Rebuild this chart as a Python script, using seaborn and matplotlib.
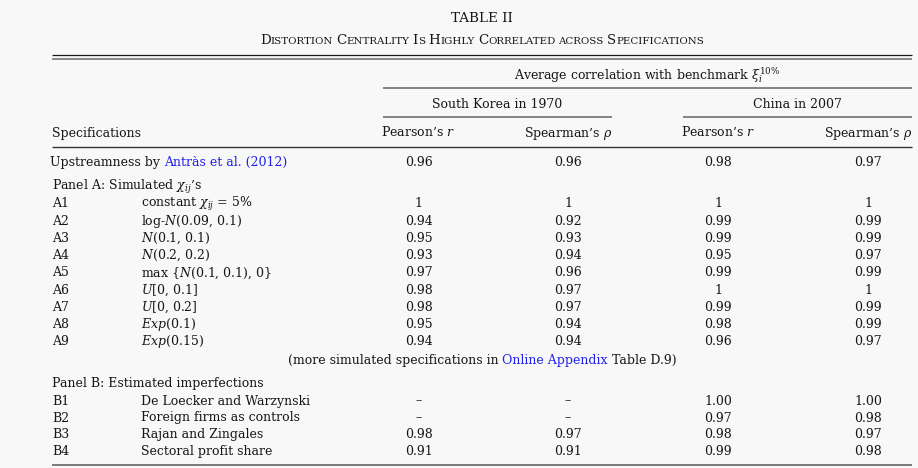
import matplotlib
matplotlib.use("Agg")
import matplotlib.pyplot as plt
import seaborn as sns

# table content
header_cols = ["Pearson’s $r$", "Spearman’s $\\rho$", "Pearson’s $r$", "Spearman’s $\\rho$"]
countries = ["South Korea in 1970", "China in 2007"]
upstream_vals = ["0.96", "0.96", "0.98", "0.97"]

a_ids = ["A1", "A2", "A3", "A4", "A5", "A6", "A7", "A8", "A9"]
a_desc = [r"constant $\chi_{ij}$ = 5%", r"log-$N$(0.09, 0.1)", r"$N$(0.1, 0.1)",
          r"$N$(0.2, 0.2)", r"max {$N$(0.1, 0.1), 0}", r"$U$[0, 0.1]",
          r"$U$[0, 0.2]", r"$Exp$(0.1)", r"$Exp$(0.15)"]
a_kor_pearson = ["1", "0.94", "0.95", "0.93", "0.97", "0.98", "0.98", "0.95", "0.94"]
a_kor_spearman = ["1", "0.92", "0.93", "0.94", "0.96", "0.97", "0.97", "0.94", "0.94"]
a_chn_pearson = ["1", "0.99", "0.99", "0.95", "0.99", "1", "0.99", "0.98", "0.96"]
a_chn_spearman = ["1", "0.99", "0.99", "0.97", "0.99", "1", "0.99", "0.99", "0.97"]

b_ids = ["B1", "B2", "B3", "B4"]
b_desc = ["De Loecker and Warzynski", "Foreign firms as controls",
          "Rajan and Zingales", "Sectoral profit share"]
b_kor_pearson = ["–", "–", "0.98", "0.91"]
b_kor_spearman = ["–", "–", "0.97", "0.91"]
b_chn_pearson = ["1.00", "0.97", "0.98", "0.99"]
b_chn_spearman = ["1.00", "0.98", "0.97", "0.98"]

sns.set_theme(style="white")
plt.rcParams["font.family"] = ["DejaVu Serif"]
plt.rcParams["mathtext.fontset"] = "dejavuserif"

INK = "#161616"
BLUE = "#2020ee"
FS = 9.0

fig = plt.figure(figsize=(9.18, 4.68), dpi=100, facecolor="#f8f8f8")
ax = fig.add_axes([0, 0, 1, 1])
ax.set_xlim(0, 918)
ax.set_ylim(468, 0)
ax.axis("off")
renderer = fig.canvas.get_renderer()


def text_w(s, size):
    t = ax.text(0, 0, s, fontsize=size)
    w = t.get_window_extent(renderer).width
    t.remove()
    return w


def segments(parts, x, y, align="left"):
    # parts: list of (text, size, color, space_after)
    widths = [text_w(p[0], p[1]) for p in parts]
    spaces = [text_w("a a", p[1]) - text_w("aa", p[1]) if p[3] else 0 for p in parts]
    total = sum(widths) + sum(spaces)
    if align == "center":
        x = x - total / 2
    for (s, size, col, _), w, sp in zip(parts, widths, spaces):
        ax.text(x, y, s, fontsize=size, color=col, va="baseline", ha="left")
        x += w + sp


def hline(x0, x1, y, color="#444444", lw=0.9):
    ax.plot([x0, x1], [y, y], color=color, lw=lw, solid_capstyle="butt")


# title
ax.text(482, 22.5, "TABLE II", fontsize=9.7, color=INK, ha="center", va="baseline")
big, small = 9.6, 7.4
sc = []
for word in "Distortion Centrality Is Highly Correlated across Specifications".split():
    if word[0].isupper():
        sc.append((word[0], big, INK, False))
        sc.append((word[1:].upper(), small, INK, True))
    else:
        sc.append((word.upper(), small, INK, True))
sc[-1] = (sc[-1][0], small, INK, False)
segments(sc, 482, 44, align="center")

# rules
L, R = 52, 912
cols = [418.5, 568, 718, 868]
hline(L, R, 54.5, color="#1a1a1a", lw=0.9)
hline(L, R, 59.2, color="#808080", lw=1.3)
hline(383, R, 88, color="#707070", lw=1.2)
hline(383, 612, 117, color="#707070", lw=1.2)
hline(683, R, 117, color="#707070", lw=1.2)
hline(L, R, 146.5, color="#333333", lw=1.0)
hline(L, R, 464.5, color="#707070", lw=1.3)

# header
ax.text(647.5, 79.5, r"Average correlation with benchmark $\xi_i^{10\%}$",
        fontsize=FS, color=INK, ha="center", va="baseline")
ax.text(497.5, 107.5, countries[0], fontsize=FS, color=INK, ha="center", va="baseline")
ax.text(797.5, 107.5, countries[1], fontsize=FS, color=INK, ha="center", va="baseline")
ax.text(L, 136.5, "Specifications", fontsize=FS, color=INK, ha="left", va="baseline")
for cx, lab in zip(cols, header_cols):
    ax.text(cx, 136.5, lab, fontsize=FS, color=INK, ha="center", va="baseline")

DX = 141
OFF = 4.6

# upstreamness row
y = 161.7 + OFF
segments([("Upstreamness by", FS, INK, True), ("Antràs et al. (2012)", FS, BLUE, False)], 50, y)
for cx, v in zip(cols, upstream_vals):
    ax.text(cx, y, v, fontsize=FS, color=INK, ha="center", va="baseline")

# panel A
ax.text(L, 185 + OFF, r"Panel A: Simulated $\chi_{ij}$’s", fontsize=FS, color=INK, va="baseline")
a_cols = [a_kor_pearson, a_kor_spearman, a_chn_pearson, a_chn_spearman]
for i, (rid, desc) in enumerate(zip(a_ids, a_desc)):
    y = 202.7 + i * 17.25 + OFF
    ax.text(L, y, rid, fontsize=FS, color=INK, va="baseline")
    ax.text(DX, y, desc, fontsize=FS, color=INK, va="baseline")
    for cx, col in zip(cols, a_cols):
        ax.text(cx, y, col[i], fontsize=FS, color=INK, ha="center", va="baseline")

segments([("(more simulated specifications in", FS, INK, True),
          ("Online Appendix", FS, BLUE, True),
          ("Table D.9)", FS, INK, False)], 482, 359 + OFF, align="center")

# panel B
ax.text(L, 382.7 + OFF, "Panel B: Estimated imperfections", fontsize=FS, color=INK, va="baseline")
b_cols = [b_kor_pearson, b_kor_spearman, b_chn_pearson, b_chn_spearman]
for i, (rid, desc) in enumerate(zip(b_ids, b_desc)):
    y = 400 + i * 16.9 + OFF
    ax.text(L, y, rid, fontsize=FS, color=INK, va="baseline")
    ax.text(DX, y, desc, fontsize=FS, color=INK, va="baseline")
    for cx, col in zip(cols, b_cols):
        ax.text(cx, y, col[i], fontsize=FS, color=INK, ha="center", va="baseline")

fig.savefig("out.png", dpi=100, facecolor=fig.get_facecolor())
